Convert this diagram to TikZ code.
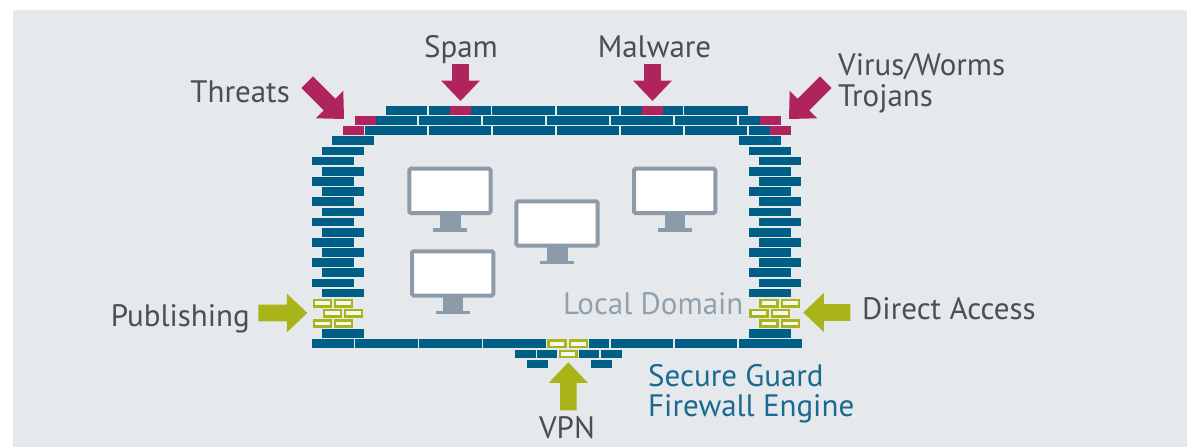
\documentclass[tikz,border=0pt]{standalone}
\usepackage{fontspec}
\setmainfont{PT Sans}
\definecolor{panel}{RGB}{230,233,236}
\definecolor{brickblue}{RGB}{0,95,135}
\definecolor{berry}{RGB}{176,36,94}
\definecolor{lime}{RGB}{168,180,24}
\definecolor{gatefill}{RGB}{244,246,242}
\definecolor{screengray}{RGB}{139,155,169}
\definecolor{textgray}{RGB}{74,79,82}
\definecolor{guardblue}{RGB}{26,105,145}
\definecolor{domaingray}{RGB}{143,161,174}

% row k of the wall: top edge and brick height
\newcommand\rowtop[1]{(106+(#1-1)*10.15)}
\newcommand\brickh{8.7}
% plain brick: x-from, x-to, row
\newcommand\wallbrick[3]{\fill[brickblue] (#1,{\rowtop{#3}}) rectangle (#2,{\rowtop{#3}+\brickh});}
% coloured patch on a brick: x-from, x-to, row
\newcommand\hitpatch[3]{\fill[berry] (#1,{\rowtop{#3}}) rectangle (#2,{\rowtop{#3}+\brickh});}
% open (passage) brick: x-from, x-to, row
\newcommand\gatebrick[3]{\draw[gatestyle] ({#1+1.2},{\rowtop{#3}+1.2}) rectangle ({#2-1.2},{\rowtop{#3}+\brickh-1.2});}
% block arrow: colour, tip, direction angle, total length
\newcommand\blockarrow[4]{\fill[#1,shift={#2},rotate=#3] (0,0) -- (-20.5,19.5) -- (-20.5,8.3) -- (-#4,8.3) -- (-#4,-8.3) -- (-20.5,-8.3) -- (-20.5,-19.5) -- cycle;}
% computer screen with stand, top-left corner of the frame
\newcommand\screen[2]{%
  \draw[screengray,line width=4pt,fill=white,rounded corners=1.5pt] (#1+2,#2+2) rectangle (#1+83.3,#2+46.3);
  \fill[screengray] (#1+32.7,#2+48) rectangle (#1+53.4,#2+61.6);
  \fill[screengray] (#1+26,#2+61.6) rectangle (#1+60,#2+65);}

\tikzset{
  gatestyle/.style={draw=lime,line width=2.4pt,fill=gatefill},
  lbl/.style={inner sep=0pt,text=textgray,font=\fontsize{31}{32}\selectfont},
  guardlbl/.style={lbl,text=guardblue},
  domainlbl/.style={lbl,text=domaingray}
}

\begin{document}
\begin{tikzpicture}[x=1pt,y=-1pt]
\useasboundingbox (0,0) rectangle (1187,447);
\fill[panel] (13,10) rectangle (1187,447);

% ---- top of the wall ----
\wallbrick{386}{427.4}{1}
\foreach \a in {428.7,492.3,556.7,620.7}{\wallbrick{\a}{\a+62.7}{1}}
\wallbrick{684.3}{748.3}{1}
\hitpatch{450}{471}{1}
\hitpatch{642}{663}{1}

\wallbrick{355}{417.4}{2}
\foreach \a in {418.7,482.7,546.7,610.7,674.7}{\wallbrick{\a}{\a+62.7}{2}}
\wallbrick{739.3}{781.3}{2}
\hitpatch{355}{376}{2}
\hitpatch{760}{781.3}{2}

\wallbrick{342.7}{364}{3}
\wallbrick{365.3}{427.4}{3}
\foreach \a in {428.7,492.7,556.7,620.7,684.7}{\wallbrick{\a}{\a+62.7}{3}}
\wallbrick{749.3}{791.3}{3}
\hitpatch{342.7}{364}{3}
\hitpatch{770}{791.3}{3}

\wallbrick{332.3}{374}{4}
\wallbrick{739.3}{781.3}{4}

% ---- side walls ----
\foreach \k in {5,7,...,19,23}{\wallbrick{322}{364}{\k}\wallbrick{749.3}{791.3}{\k}}
\foreach \k in {6,8,...,18}{\wallbrick{312}{354}{\k}\wallbrick{759.3}{801.3}{\k}}

% open passages in the side walls
\foreach \k in {20,22}{
  \gatebrick{312.7}{332}{\k}\gatebrick{334}{353.3}{\k}
  \gatebrick{759.3}{778.7}{\k}\gatebrick{780.7}{800}{\k}}
\gatebrick{322.7}{342}{21}\gatebrick{344}{363.3}{21}
\gatebrick{749.3}{768.7}{21}\gatebrick{770.7}{790}{21}

% ---- bottom of the wall ----
\wallbrick{312}{354}{24}
\foreach \a in {355.3,419,483}{\wallbrick{\a}{\a+62.7}{24}}
\gatebrick{547.3}{566.7}{24}\gatebrick{568.7}{588}{24}
\wallbrick{589.3}{609.3}{24}
\foreach \a in {610.7,674.7}{\wallbrick{\a}{\a+62.7}{24}}
\wallbrick{738.7}{801.7}{24}

\wallbrick{515.3}{536}{25}
\wallbrick{537.3}{557.3}{25}
\gatebrick{559}{577.7}{25}
\wallbrick{579.3}{599.3}{25}
\wallbrick{600.7}{622}{25}

\wallbrick{527.3}{548}{26}
\wallbrick{591.3}{612}{26}

% ---- computers of the local domain ----
\screen{407.3}{166.7}
\screen{514.3}{199.3}
\screen{410}{249.3}
\screen{632}{166.7}

% ---- attacks ----
\blockarrow{berry}{(344,119)}{-45}{52}
\blockarrow{berry}{(460.5,101)}{-90}{37}
\blockarrow{berry}{(652.5,101)}{-90}{37}
\blockarrow{berry}{(789,119)}{-135}{52}

% ---- permitted access ----
\blockarrow{lime}{(307.3,313)}{0}{49}
\blockarrow{lime}{(803.3,312.5)}{180}{47}
\blockarrow{lime}{(568.3,362.3)}{90}{48}

% ---- labels ----
\node[lbl,anchor=base] (spam) at (461,57) {Spam};
\node[lbl,anchor=base] (malware) at (654.5,57) {Malware};
\node[lbl,anchor=base east] (threats) at (290,102) {Threats};
\node[lbl,anchor=base west] (virus) at (838,75) {Virus/Worms};
\node[lbl,anchor=base west] (trojans) at (838,106) {Trojans};
\node[lbl,anchor=base east] (publishing) at (250,326) {Publishing};
\node[lbl,anchor=base west] (direct) at (862,319) {Direct Access};
\node[domainlbl,anchor=base west] (localdomain) at (563,314) {Local Domain};
\node[guardlbl,anchor=base west] (secure) at (648,386) {Secure Guard};
\node[guardlbl,anchor=base west] (engine) at (648,416) {Firewall Engine};
\node[lbl,anchor=base] (vpn) at (567,438) {VPN};
\end{tikzpicture}
\end{document}
